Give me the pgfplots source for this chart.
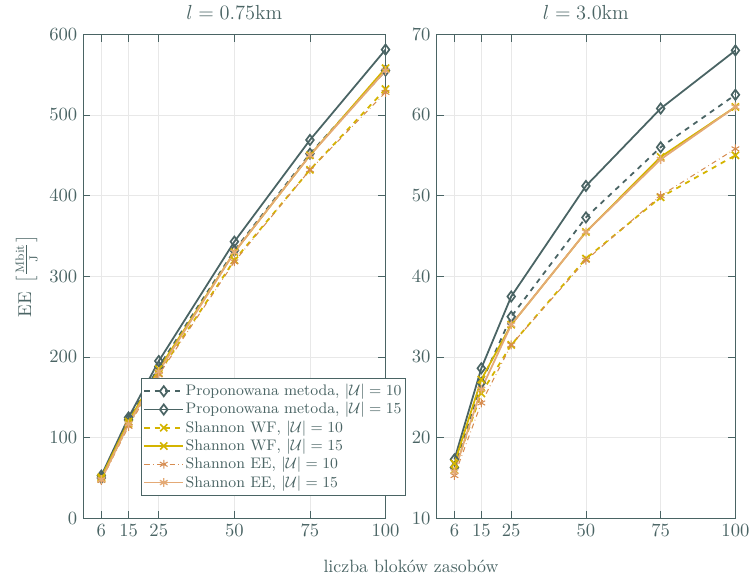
\documentclass[border=0pt]{standalone}
\usepackage{amsmath}
\usepackage{amssymb}
\usepackage{xcolor}
\usepackage{pgfplots}
\pgfplotsset{compat=1.18}
\usetikzlibrary{calc}

\definecolor{slate}{RGB}{74,100,100}
\definecolor{gold}{RGB}{212,180,0}
\definecolor{ee10}{RGB}{214,140,80}
\definecolor{ee15}{RGB}{228,170,118}

\pgfplotsset{
  eeaxis/.style={
    scale only axis, width=178pt, height=285pt,
    xmin=0, xmax=100,
    xtick={6,15,25,50,75,100},
    grid=major, major grid style={gray!18},
    axis line style={slate}, every tick/.style={slate},
    tick label style={text=slate, font=\fontsize{11}{13}\selectfont},
    title style={text=slate, font=\fontsize{12.8}{15}\selectfont, yshift=-1pt},
    label style={text=slate, font=\fontsize{10.5}{12.5}\selectfont},
  },
  prop10/.style={color=slate, dashed, line width=1.05pt, mark=diamond, mark size=3pt, mark options={solid, line width=1pt}},
  prop15/.style={color=slate, solid, line width=1.05pt, mark=diamond, mark size=3pt, mark options={solid, line width=1pt}},
  wf10/.style={color=gold, dashed, line width=1.05pt, mark=x, mark size=3pt, mark options={solid, line width=1pt}},
  wf15/.style={color=gold, solid, line width=1.05pt, mark=x, mark size=3pt, mark options={solid, line width=1pt}},
  ee10/.style={color=ee10, dashdotted, line width=0.6pt, mark=asterisk, mark size=2.6pt, mark options={solid}},
  ee15/.style={color=ee15, solid, line width=1.05pt, mark=asterisk, mark size=2.6pt, mark options={solid, line width=0.8pt}},
}

\begin{document}
\color{slate}
\begin{tikzpicture}
  % l = 0.75 km
  \begin{axis}[eeaxis, name=left,
      ymin=0, ymax=600, ytick={0,100,...,600},
      title={$l = 0.75\mathrm{km}$},
      ylabel={$\mathrm{EE}\ \left[\frac{\mathrm{Mbit}}{\mathrm{J}}\right]$},
      legend cell align=left,
      legend image code/.code={\draw[mark repeat=2, mark phase=2] plot coordinates {(0cm,0cm) (0.4cm,0cm) (0.8cm,0cm)};},
      legend style={at={(0.19,0.29)}, anchor=north west, draw=slate, fill=white,
        text=slate, font=\small, row sep=-1.5pt, inner sep=1.5pt, nodes={inner xsep=1pt}},
    ]
    \addplot[prop10] coordinates {(6,50) (15,122) (25,188) (50,332) (75,452) (100,555)};
    \addlegendentry{Proponowana metoda, $|\mathcal{U}| = 10$}
    \addplot[prop15] coordinates {(6,53) (15,125) (25,195) (50,343) (75,469) (100,581)};
    \addlegendentry{Proponowana metoda, $|\mathcal{U}| = 15$}
    \addplot[wf10] coordinates {(6,49) (15,117) (25,180) (50,320) (75,432) (100,532)};
    \addlegendentry{Shannon WF, $|\mathcal{U}| = 10$}
    \addplot[wf15] coordinates {(6,51) (15,120) (25,185) (50,330) (75,450) (100,558)};
    \addlegendentry{Shannon WF, $|\mathcal{U}| = 15$}
    \addplot[ee10] coordinates {(6,47) (15,114) (25,178) (50,318) (75,432) (100,528)};
    \addlegendentry{Shannon EE, $|\mathcal{U}| = 10$}
    \addplot[ee15] coordinates {(6,48) (15,117) (25,182) (50,330) (75,450) (100,555)};
    \addlegendentry{Shannon EE, $|\mathcal{U}| = 15$}
  \end{axis}
  % l = 3.0 km
  \begin{axis}[eeaxis, name=right,
      at={($(left.south east)+(30pt,0)$)}, anchor=south west,
      width=176pt,
      ymin=10, ymax=70, ytick={10,20,...,70},
      title={$l = 3.0\mathrm{km}$},
    ]
    \addplot[prop10] coordinates {(6,16.3) (15,26.8) (25,35.0) (50,47.3) (75,56.0) (100,62.5)};
    \addplot[prop15] coordinates {(6,17.3) (15,28.6) (25,37.5) (50,51.2) (75,60.8) (100,68.0)};
    \addplot[wf10] coordinates {(6,16.0) (15,25.5) (25,31.5) (50,42.2) (75,49.8) (100,55.0)};
    \addplot[wf15] coordinates {(6,16.8) (15,27.2) (25,34.0) (50,45.5) (75,54.8) (100,61.0)};
    \addplot[ee10] coordinates {(6,15.3) (15,24.3) (25,31.5) (50,42.0) (75,50.0) (100,55.8)};
    \addplot[ee15] coordinates {(6,15.8) (15,26.0) (25,34.0) (50,45.5) (75,54.5) (100,61.0)};
  \end{axis}
  \node[text=slate, anchor=north, font=\fontsize{10.5}{12.5}\selectfont]
    at ($(left.south east)!0.5!(right.south west)+(0,-21pt)$) {liczba blok\'ow zasob\'ow};
  % a little room on the left, as in the reference
  \path ($(left.south west)+(-49pt,0)$);
\end{tikzpicture}
\end{document}
